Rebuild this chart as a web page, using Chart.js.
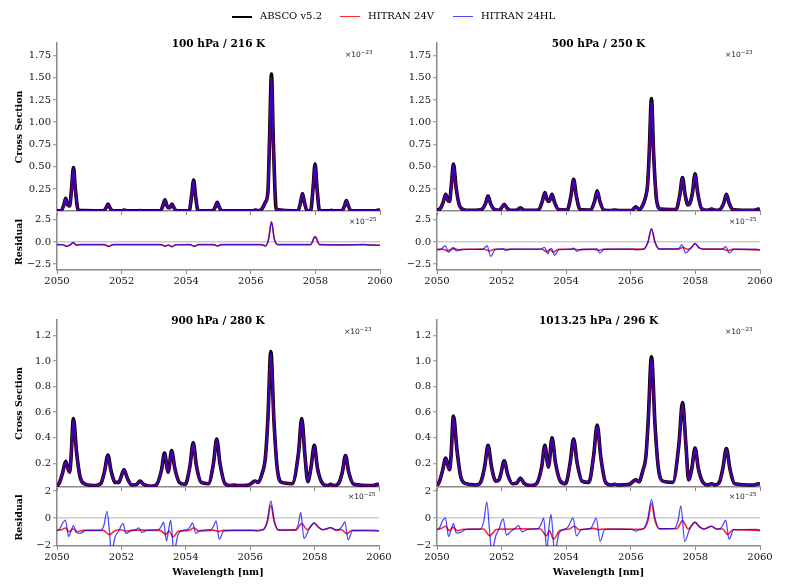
<!DOCTYPE html>
<html><head><meta charset="utf-8">
<script src="https://cdn.jsdelivr.net/npm/chart.js@4.4.1/dist/chart.umd.min.js"></script>
<style>
html,body{margin:0;padding:0;background:#fff;}
#fig{position:relative;width:800px;height:588px;overflow:hidden;font-family:"DejaVu Serif",serif;color:#111;}
#fig canvas{position:absolute;}
.ttl{position:absolute;font-weight:bold;font-size:10.5px;transform:translate(-50%,-50%);white-space:nowrap;color:#000;}
.off{position:absolute;font-family:"DejaVu Sans",sans-serif;font-size:7.5px;white-space:nowrap;transform:translateY(-50%);color:#222;}
.off sup{font-size:5.5px;vertical-align:3px;line-height:0;}
.lg{position:absolute;top:9px;font-size:10px;white-space:nowrap;line-height:13px;color:#000;}
.lg i{display:inline-block;width:20px;vertical-align:middle;margin-right:8px;}
</style></head>
<body><div id="fig"></div>
<script>
// ---------- labels ----------
const SERIES = ['ABSCO v5.2','HITRAN 24V','HITRAN 24HL'];
const PANEL_TITLES = ['100 hPa / 216 K','500 hPa / 250 K','900 hPa / 280 K','1013.25 hPa / 296 K'];
const X_TICKS = [2050,2052,2054,2056,2058,2060];
const X_TICK_LABELS = ['2050','2052','2054','2056','2058','2060'];
const CS_TICKS_TOP = [0.25,0.5,0.75,1.0,1.25,1.5,1.75];
const CS_TICK_LABELS_TOP = ['0.25','0.50','0.75','1.00','1.25','1.50','1.75'];
const CS_TICKS_BOTTOM = [0.2,0.4,0.6,0.8,1.0,1.2];
const CS_TICK_LABELS_BOTTOM = ['0.2','0.4','0.6','0.8','1.0','1.2'];
const RES_TICKS_TOP = [-2.5,0,2.5];
const RES_TICK_LABELS_TOP = ['\u22122.5','0.0','2.5'];
const RES_TICKS_BOTTOM = [-2,0,2];
const RES_TICK_LABELS_BOTTOM = ['\u22122','0','2'];

// ---------- 100 hPa / 216 K (cross section, x1e-23) ----------
const wl100 = [2050.00,2050.13,2050.21,2050.27,2050.33,2050.39,2050.45,2050.51,2050.57,2050.66,
2051.44,2051.52,2051.58,2051.64,2051.72,2052.00,2052.08,2052.16,2052.50,2052.58,
2052.66,2053.20,2053.28,2053.34,2053.40,2053.45,2053.50,2053.56,2053.62,2053.70,
2054.09,2054.17,2054.23,2054.29,2054.37,2054.82,2054.90,2054.96,2055.02,2055.10,
2056.06,2056.15,2056.24,2056.35,2056.45,2056.53,2056.58,2056.64,2056.70,2056.79,
2057.46,2057.54,2057.60,2057.66,2057.74,2057.85,2057.93,2057.99,2058.05,2058.13,
2058.42,2058.50,2058.58,2058.82,2058.90,2058.96,2059.02,2059.10,2059.87,2059.95,2060.00];
const absco100 = [0.005,0.008,0.07,0.145,0.07,0.06,0.25,0.49,0.24,0.01,
0.005,0.04,0.08,0.04,0.005,0.005,0.015,0.005,0.004,0.008,
0.004,0.005,0.065,0.13,0.065,0.04,0.045,0.08,0.04,0.005,
0.005,0.18,0.35,0.17,0.005,0.005,0.05,0.10,0.05,0.005,
0.005,0.015,0.006,0.03,0.10,0.22,0.80,1.54,0.75,0.02,
0.005,0.10,0.20,0.10,0.008,0.005,0.27,0.53,0.26,0.005,
0.004,0.01,0.004,0.005,0.06,0.12,0.06,0.005,0.005,0.015,0.008];
const v24_100 = [0.005,0.008,0.068,0.14,0.068,0.058,0.245,0.475,0.235,0.01,
0.005,0.039,0.078,0.039,0.005,0.005,0.014,0.005,0.004,0.008,
0.004,0.005,0.063,0.127,0.063,0.039,0.044,0.078,0.039,0.005,
0.005,0.175,0.34,0.165,0.005,0.005,0.049,0.098,0.049,0.005,
0.005,0.014,0.006,0.03,0.098,0.215,0.78,1.50,0.73,0.02,
0.005,0.098,0.195,0.098,0.008,0.005,0.265,0.515,0.255,0.005,
0.004,0.01,0.004,0.005,0.059,0.117,0.059,0.005,0.005,0.014,0.008];
const hl24_100 = [0.005,0.008,0.069,0.143,0.069,0.059,0.248,0.484,0.238,0.01,
0.005,0.04,0.079,0.04,0.005,0.005,0.015,0.005,0.004,0.008,
0.004,0.005,0.064,0.128,0.064,0.04,0.045,0.079,0.04,0.005,
0.005,0.178,0.346,0.168,0.005,0.005,0.05,0.099,0.05,0.005,
0.005,0.015,0.006,0.03,0.099,0.218,0.79,1.52,0.74,0.02,
0.005,0.099,0.198,0.099,0.008,0.005,0.268,0.524,0.258,0.005,
0.004,0.01,0.004,0.005,0.06,0.118,0.06,0.005,0.005,0.015,0.008];

// ---------- 500 hPa / 250 K ----------
const wl500 = [2050.00,2050.10,2050.19,2050.27,2050.34,2050.39,2050.44,2050.51,2050.59,2050.70,
2050.85,2051.20,2051.38,2051.50,2051.58,2051.66,2051.78,2051.93,2052.00,2052.08,
2052.16,2052.26,2052.46,2052.58,2052.70,2053.14,2053.26,2053.34,2053.41,2053.45,
2053.49,2053.56,2053.64,2053.76,2054.03,2054.15,2054.23,2054.31,2054.43,2054.76,
2054.88,2054.96,2055.04,2055.16,2055.38,2055.50,2055.62,2056.03,2056.15,2056.26,
2056.36,2056.45,2056.52,2056.57,2056.64,2056.71,2056.80,2056.92,2057.40,2057.52,
2057.60,2057.68,2057.77,2057.83,2057.91,2057.99,2058.07,2058.19,2058.38,2058.50,
2058.62,2058.76,2058.88,2058.96,2059.04,2059.16,2059.83,2059.95,2060.00];
const absco500 = [0.012,0.03,0.10,0.19,0.12,0.11,0.28,0.53,0.27,0.06,
0.015,0.01,0.02,0.085,0.17,0.085,0.02,0.012,0.04,0.077,
0.04,0.012,0.01,0.04,0.01,0.015,0.11,0.21,0.13,0.11,
0.12,0.19,0.10,0.02,0.015,0.18,0.36,0.18,0.02,0.015,
0.115,0.23,0.115,0.015,0.008,0.015,0.008,0.01,0.05,0.02,
0.06,0.15,0.30,0.65,1.265,0.62,0.12,0.025,0.02,0.19,
0.38,0.19,0.07,0.09,0.21,0.42,0.21,0.03,0.01,0.025,
0.01,0.02,0.095,0.19,0.095,0.02,0.01,0.025,0.015];
const v24_500 = [0.012,0.03,0.098,0.185,0.118,0.108,0.275,0.515,0.265,0.06,
0.015,0.01,0.02,0.083,0.165,0.083,0.02,0.012,0.039,0.075,
0.039,0.012,0.01,0.039,0.01,0.015,0.108,0.205,0.128,0.108,
0.118,0.185,0.098,0.02,0.015,0.176,0.35,0.176,0.02,0.015,
0.113,0.224,0.113,0.015,0.008,0.015,0.008,0.01,0.049,0.02,
0.06,0.148,0.295,0.635,1.235,0.61,0.12,0.025,0.02,0.186,
0.372,0.186,0.07,0.09,0.206,0.412,0.206,0.03,0.01,0.025,
0.01,0.02,0.093,0.186,0.093,0.02,0.01,0.025,0.015];
const hl24_500 = [0.012,0.03,0.099,0.188,0.119,0.109,0.278,0.524,0.268,0.06,
0.015,0.01,0.02,0.084,0.168,0.084,0.02,0.012,0.04,0.076,
0.04,0.012,0.01,0.04,0.01,0.015,0.109,0.208,0.129,0.109,
0.119,0.188,0.099,0.02,0.015,0.178,0.355,0.178,0.02,0.015,
0.114,0.227,0.114,0.015,0.008,0.015,0.008,0.01,0.05,0.02,
0.06,0.149,0.298,0.642,1.25,0.615,0.12,0.025,0.02,0.188,
0.376,0.188,0.07,0.09,0.208,0.416,0.208,0.03,0.01,0.025,
0.01,0.02,0.094,0.188,0.094,0.02,0.01,0.025,0.015];

// ---------- 900 hPa / 280 K ----------
const wl900 = [2050.00,2050.08,2050.17,2050.27,2050.35,2050.39,2050.43,2050.51,2050.61,2050.73,
2050.90,2051.20,2051.32,2051.38,2051.48,2051.58,2051.68,2051.81,2051.92,2051.98,
2052.08,2052.18,2052.32,2052.47,2052.58,2052.69,2052.90,2053.08,2053.24,2053.34,
2053.42,2053.45,2053.48,2053.56,2053.66,2053.80,2053.98,2054.13,2054.23,2054.33,
2054.48,2054.70,2054.86,2054.96,2055.06,2055.22,2055.40,2055.50,2055.60,2055.95,
2056.15,2056.25,2056.37,2056.47,2056.55,2056.64,2056.74,2056.84,2056.98,2057.30,
2057.50,2057.60,2057.70,2057.79,2057.89,2057.99,2058.09,2058.25,2058.40,2058.50,
2058.60,2058.74,2058.86,2058.96,2059.06,2059.22,2059.80,2059.95,2060.00];
const absco900 = [0.02,0.05,0.12,0.215,0.15,0.13,0.22,0.55,0.28,0.08,
0.035,0.025,0.035,0.05,0.14,0.265,0.14,0.05,0.05,0.085,
0.148,0.085,0.03,0.035,0.06,0.035,0.02,0.03,0.14,0.28,
0.16,0.13,0.16,0.30,0.16,0.05,0.035,0.18,0.36,0.18,
0.05,0.04,0.20,0.39,0.20,0.04,0.025,0.03,0.025,0.03,
0.06,0.05,0.12,0.24,0.55,1.075,0.52,0.16,0.05,0.04,
0.28,0.55,0.26,0.056,0.17,0.34,0.16,0.04,0.025,0.035,
0.025,0.04,0.13,0.26,0.13,0.035,0.025,0.035,0.03];
const v24_900 = [0.02,0.05,0.118,0.21,0.147,0.128,0.216,0.538,0.275,0.08,
0.035,0.025,0.035,0.05,0.137,0.258,0.137,0.05,0.05,0.084,
0.145,0.084,0.03,0.035,0.059,0.035,0.02,0.03,0.137,0.273,
0.157,0.128,0.157,0.292,0.157,0.05,0.035,0.177,0.353,0.177,
0.05,0.04,0.196,0.382,0.196,0.04,0.025,0.03,0.025,0.03,
0.059,0.05,0.118,0.236,0.54,1.055,0.51,0.158,0.05,0.04,
0.275,0.54,0.255,0.056,0.167,0.333,0.157,0.04,0.025,0.035,
0.025,0.04,0.128,0.255,0.128,0.035,0.025,0.035,0.03];
const hl24_900 = [0.02,0.05,0.119,0.212,0.148,0.129,0.218,0.543,0.277,0.08,
0.035,0.025,0.035,0.05,0.138,0.261,0.138,0.05,0.05,0.084,
0.146,0.084,0.03,0.035,0.059,0.035,0.02,0.03,0.138,0.276,
0.158,0.129,0.158,0.296,0.158,0.05,0.035,0.178,0.356,0.178,
0.05,0.04,0.198,0.386,0.198,0.04,0.025,0.03,0.025,0.03,
0.059,0.05,0.119,0.238,0.545,1.062,0.515,0.159,0.05,0.04,
0.277,0.545,0.258,0.056,0.168,0.337,0.158,0.04,0.025,0.035,
0.025,0.04,0.129,0.258,0.129,0.035,0.025,0.035,0.03];

// ---------- 1013.25 hPa / 296 K ----------
const wl1013 = [2050.00,2050.08,2050.17,2050.27,2050.35,2050.39,2050.43,2050.51,2050.62,2050.74,
2050.90,2051.20,2051.32,2051.38,2051.48,2051.58,2051.69,2051.82,2051.92,2051.98,
2052.08,2052.19,2052.34,2052.47,2052.58,2052.69,2052.90,2053.08,2053.24,2053.34,
2053.42,2053.45,2053.48,2053.56,2053.67,2053.82,2053.98,2054.12,2054.23,2054.34,
2054.49,2054.70,2054.85,2054.96,2055.07,2055.22,2055.40,2055.50,2055.60,2055.95,
2056.15,2056.25,2056.37,2056.47,2056.54,2056.64,2056.75,2056.85,2056.99,2057.30,
2057.49,2057.60,2057.71,2057.79,2057.89,2057.99,2058.09,2058.25,2058.40,2058.50,
2058.60,2058.74,2058.85,2058.96,2059.07,2059.22,2059.80,2059.95,2060.00];
const absco1013 = [0.025,0.06,0.14,0.24,0.17,0.15,0.24,0.57,0.30,0.09,
0.04,0.03,0.04,0.07,0.18,0.34,0.17,0.06,0.07,0.12,
0.22,0.11,0.04,0.045,0.085,0.045,0.025,0.04,0.17,0.34,
0.20,0.17,0.21,0.40,0.20,0.06,0.04,0.20,0.39,0.20,
0.06,0.05,0.26,0.50,0.25,0.05,0.03,0.035,0.03,0.035,
0.07,0.055,0.14,0.26,0.54,1.035,0.50,0.17,0.06,0.05,
0.35,0.675,0.33,0.07,0.16,0.32,0.16,0.045,0.03,0.04,
0.03,0.05,0.16,0.315,0.155,0.04,0.03,0.04,0.035];
const v24_1013 = [0.025,0.06,0.137,0.235,0.167,0.147,0.235,0.558,0.294,0.09,
0.04,0.03,0.04,0.07,0.176,0.333,0.167,0.06,0.07,0.118,
0.215,0.108,0.04,0.045,0.083,0.045,0.025,0.04,0.167,0.333,
0.196,0.167,0.206,0.392,0.196,0.06,0.04,0.196,0.382,0.196,
0.06,0.05,0.255,0.49,0.245,0.05,0.03,0.035,0.03,0.035,
0.069,0.055,0.137,0.255,0.53,1.015,0.49,0.167,0.06,0.05,
0.343,0.662,0.323,0.07,0.157,0.314,0.157,0.045,0.03,0.04,
0.03,0.05,0.157,0.309,0.152,0.04,0.03,0.04,0.035];
const hl24_1013 = [0.025,0.06,0.138,0.238,0.168,0.148,0.238,0.564,0.297,0.09,
0.04,0.03,0.04,0.07,0.178,0.337,0.168,0.06,0.07,0.119,
0.218,0.109,0.04,0.045,0.084,0.045,0.025,0.04,0.168,0.337,
0.198,0.168,0.208,0.396,0.198,0.06,0.04,0.198,0.386,0.198,
0.06,0.05,0.258,0.495,0.248,0.05,0.03,0.035,0.03,0.035,
0.069,0.055,0.138,0.258,0.535,1.022,0.495,0.168,0.06,0.05,
0.347,0.668,0.327,0.07,0.158,0.317,0.158,0.045,0.03,0.04,
0.03,0.05,0.158,0.312,0.153,0.04,0.03,0.04,0.035];

// ---------- residuals [wavelength, value x1e-25] ----------
const resV100 = [[2050.00,-0.30],[2050.18,-0.31],[2050.30,-0.48],[2050.42,-0.30],[2050.50,-0.08],[2050.60,-0.33],[2050.72,-0.30],[2051.46,-0.30],[2051.60,-0.48],[2051.74,-0.30],[2053.22,-0.30],[2053.35,-0.46],[2053.45,-0.34],[2053.56,-0.52],[2053.68,-0.31],[2054.12,-0.30],[2054.25,-0.47],[2054.38,-0.30],[2054.85,-0.30],[2054.97,-0.43],[2055.09,-0.30],[2056.32,-0.30],[2056.46,-0.42],[2056.55,0.30],[2056.64,2.25],[2056.73,0.30],[2056.84,-0.30],[2057.85,-0.30],[2057.99,0.58],[2058.13,-0.30],[2058.96,-0.33],[2059.50,-0.30],[2059.95,-0.37],[2060.00,-0.35]];
const resHL100 = [[2050.00,-0.30],[2050.18,-0.30],[2050.30,-0.50],[2050.42,-0.30],[2050.50,-0.05],[2050.60,-0.35],[2050.72,-0.30],[2051.46,-0.30],[2051.60,-0.50],[2051.74,-0.30],[2053.22,-0.30],[2053.35,-0.48],[2053.45,-0.35],[2053.56,-0.55],[2053.68,-0.32],[2054.12,-0.30],[2054.25,-0.50],[2054.38,-0.30],[2054.85,-0.30],[2054.97,-0.45],[2055.09,-0.30],[2056.32,-0.30],[2056.46,-0.45],[2056.55,0.32],[2056.64,2.30],[2056.73,0.32],[2056.84,-0.30],[2057.85,-0.30],[2057.99,0.62],[2058.13,-0.30],[2058.96,-0.32],[2059.50,-0.30],[2059.95,-0.38],[2060.00,-0.35]];
const resV500 = [[2050.00,-0.85],[2050.18,-0.82],[2050.32,-1.00],[2050.45,-0.82],[2050.55,-0.75],[2050.66,-0.90],[2050.82,-0.82],[2051.46,-0.82],[2051.62,-1.02],[2051.78,-0.82],[2053.24,-0.82],[2053.40,-1.10],[2053.50,-0.85],[2053.60,-1.15],[2053.76,-0.82],[2054.10,-0.82],[2054.25,-0.80],[2054.38,-0.88],[2054.86,-0.82],[2055.00,-0.95],[2055.14,-0.82],[2056.40,-0.80],[2056.53,-0.05],[2056.64,1.45],[2056.75,-0.05],[2056.88,-0.80],[2057.46,-0.80],[2057.62,-0.62],[2057.76,-0.82],[2057.88,-0.62],[2057.99,-0.18],[2058.11,-0.65],[2058.24,-0.80],[2058.86,-0.80],[2059.00,-0.98],[2059.14,-0.82],[2060.00,-0.90]];
const resHL500 = [[2050.00,-0.85],[2050.12,-0.82],[2050.19,-0.60],[2050.25,-0.40],[2050.36,-1.15],[2050.44,-0.85],[2050.50,-0.62],[2050.60,-1.00],[2050.75,-0.85],[2051.40,-0.82],[2051.48,-0.65],[2051.55,-0.40],[2051.66,-1.62],[2051.80,-0.85],[2051.98,-0.78],[2052.04,-0.75],[2052.12,-0.95],[2052.28,-0.82],[2053.20,-0.80],[2053.33,-0.60],[2053.43,-1.35],[2053.50,-0.80],[2053.55,-0.75],[2053.64,-1.50],[2053.78,-0.85],[2054.12,-0.82],[2054.23,-0.68],[2054.33,-1.05],[2054.48,-0.82],[2054.85,-0.82],[2054.95,-0.75],[2055.04,-1.25],[2055.18,-0.82],[2056.08,-0.82],[2056.18,-0.88],[2056.40,-0.80],[2056.53,0.00],[2056.64,1.52],[2056.75,0.00],[2056.88,-0.78],[2057.45,-0.78],[2057.52,-0.60],[2057.58,-0.30],[2057.70,-1.22],[2057.82,-0.85],[2057.88,-0.62],[2057.99,-0.16],[2058.11,-0.65],[2058.24,-0.80],[2058.50,-0.80],[2058.82,-0.80],[2058.88,-0.68],[2058.94,-0.52],[2059.05,-1.25],[2059.19,-0.82],[2059.90,-0.82],[2060.00,-0.90]];
const resV900 = [[2050.00,-0.90],[2050.14,-0.85],[2050.27,-0.72],[2050.38,-1.00],[2050.50,-0.78],[2050.62,-0.98],[2050.82,-0.90],[2051.44,-0.90],[2051.62,-1.22],[2051.80,-0.92],[2051.98,-0.85],[2052.12,-0.95],[2052.30,-0.90],[2052.60,-0.88],[2053.20,-0.90],[2053.38,-1.20],[2053.48,-0.95],[2053.60,-1.38],[2053.78,-0.95],[2054.10,-0.90],[2054.25,-0.70],[2054.40,-0.95],[2054.86,-0.88],[2055.00,-0.98],[2055.16,-0.90],[2056.10,-0.90],[2056.40,-0.85],[2056.53,-0.30],[2056.64,0.95],[2056.75,-0.30],[2056.88,-0.88],[2057.42,-0.88],[2057.60,-0.40],[2057.77,-0.85],[2057.88,-0.60],[2057.99,-0.35],[2058.11,-0.65],[2058.26,-0.85],[2058.50,-0.70],[2058.66,-0.88],[2058.84,-0.85],[2059.00,-1.15],[2059.16,-0.90],[2060.00,-0.95]];
const resHL900 = [[2050.00,-0.90],[2050.08,-0.80],[2050.18,-0.35],[2050.26,-0.15],[2050.36,-1.35],[2050.45,-0.85],[2050.51,-0.55],[2050.60,-1.05],[2050.72,-1.12],[2050.90,-0.90],[2051.35,-0.90],[2051.46,-0.50],[2051.55,0.50],[2051.63,-1.00],[2051.69,-2.60],[2051.80,-1.40],[2051.92,-0.95],[2051.98,-0.62],[2052.05,-0.38],[2052.14,-1.12],[2052.28,-0.95],[2052.45,-0.85],[2052.54,-0.72],[2052.64,-1.05],[2052.80,-0.90],[2053.15,-0.85],[2053.24,-0.60],[2053.31,-0.30],[2053.40,-1.68],[2053.47,-0.80],[2053.53,-0.15],[2053.63,-2.50],[2053.76,-1.20],[2053.92,-0.90],[2054.05,-0.85],[2054.14,-0.60],[2054.21,-0.35],[2054.31,-1.10],[2054.45,-0.90],[2054.78,-0.85],[2054.87,-0.55],[2054.94,-0.20],[2055.04,-1.55],[2055.18,-0.95],[2055.50,-0.90],[2056.08,-0.90],[2056.20,-0.95],[2056.40,-0.85],[2056.53,-0.20],[2056.64,1.28],[2056.75,-0.20],[2056.88,-0.88],[2057.40,-0.85],[2057.50,-0.40],[2057.57,0.42],[2057.67,-1.50],[2057.80,-0.95],[2057.88,-0.60],[2057.99,-0.35],[2058.11,-0.65],[2058.26,-0.85],[2058.50,-0.70],[2058.66,-0.88],[2058.78,-0.80],[2058.87,-0.55],[2058.94,-0.25],[2059.04,-1.60],[2059.18,-0.92],[2059.90,-0.88],[2060.00,-0.95]];
const resV1013 = [[2050.00,-0.85],[2050.14,-0.75],[2050.27,-0.60],[2050.38,-0.92],[2050.50,-0.68],[2050.62,-0.92],[2050.82,-0.82],[2051.44,-0.80],[2051.63,-1.30],[2051.82,-0.85],[2051.98,-0.80],[2052.12,-0.82],[2052.30,-0.80],[2052.60,-0.78],[2053.20,-0.80],[2053.39,-1.30],[2053.48,-0.92],[2053.61,-1.55],[2053.80,-0.90],[2054.10,-0.80],[2054.25,-0.60],[2054.40,-0.85],[2054.86,-0.75],[2055.00,-0.85],[2055.16,-0.80],[2056.10,-0.82],[2056.40,-0.78],[2056.53,-0.20],[2056.64,1.08],[2056.75,-0.20],[2056.88,-0.78],[2057.42,-0.78],[2057.60,-0.20],[2057.78,-0.80],[2057.88,-0.55],[2057.99,-0.30],[2058.11,-0.60],[2058.26,-0.80],[2058.50,-0.60],[2058.66,-0.80],[2058.84,-0.80],[2059.00,-1.20],[2059.16,-0.85],[2060.00,-0.90]];
const resHL1013 = [[2050.00,-0.85],[2050.08,-0.70],[2050.18,-0.15],[2050.26,0.02],[2050.36,-1.35],[2050.45,-0.75],[2050.51,-0.40],[2050.60,-1.10],[2050.73,-1.05],[2050.90,-0.82],[2051.34,-0.80],[2051.45,-0.20],[2051.54,1.20],[2051.63,-1.00],[2051.69,-2.50],[2051.82,-1.30],[2051.93,-0.75],[2051.98,-0.35],[2052.05,-0.05],[2052.15,-1.25],[2052.30,-0.95],[2052.44,-0.70],[2052.52,-0.55],[2052.64,-1.00],[2052.82,-0.82],[2053.14,-0.75],[2053.23,-0.40],[2053.30,0.00],[2053.40,-2.30],[2053.47,-0.60],[2053.53,0.28],[2053.64,-2.50],[2053.78,-1.10],[2053.94,-0.82],[2054.04,-0.70],[2054.13,-0.30],[2054.21,0.02],[2054.32,-1.30],[2054.47,-0.85],[2054.76,-0.75],[2054.86,-0.30],[2054.93,0.00],[2055.05,-1.70],[2055.19,-0.85],[2055.50,-0.80],[2056.03,-0.82],[2056.15,-0.95],[2056.27,-0.85],[2056.40,-0.75],[2056.53,0.00],[2056.64,1.38],[2056.75,0.00],[2056.88,-0.78],[2057.36,-0.75],[2057.47,-0.10],[2057.55,0.90],[2057.67,-1.70],[2057.80,-0.95],[2057.88,-0.55],[2057.99,-0.30],[2058.11,-0.60],[2058.26,-0.80],[2058.50,-0.60],[2058.66,-0.80],[2058.78,-0.75],[2058.87,-0.40],[2058.94,-0.15],[2059.04,-1.55],[2059.19,-0.85],[2059.90,-0.82],[2060.00,-0.90]];

// ---------- styling ----------
const C_BLACK = '#000000', C_RED = 'rgba(255,0,0,0.85)', C_BLUE = 'rgba(0,0,255,0.7)';
const SPINE = '#8a8a8a';
const tickFont = {family:'DejaVu Serif', size:10};
const axTitleFont = {family:'DejaVu Serif', size:9.5, weight:'bold'};
const fig = document.getElementById('fig');

function xy(xs, ys){ return xs.map((x,i)=>({x:x, y:ys[i]})); }
function pairs(p){ return p.map(d=>({x:d[0], y:d[1]})); }

function addChart(plot, o){
  const P = 14, yW = 45, xH = o.xH;
  const cv = document.createElement('canvas');
  const w = plot.r - plot.l + yW + 2*P, h = plot.b - plot.t + xH + 2*P;
  cv.width = w; cv.height = h;
  cv.style.left = (plot.l - yW - P) + 'px'; cv.style.top = (plot.t - P) + 'px';
  cv.style.width = w + 'px'; cv.style.height = h + 'px';
  fig.appendChild(cv);
  return new Chart(cv, {
    type:'line',
    data:{datasets:o.datasets},
    options:{
      responsive:false, animation:false, devicePixelRatio:1,
      layout:{padding:P},
      plugins:{legend:{display:false}, tooltip:{enabled:false}, title:{display:false}},
      elements:{point:{radius:0}, line:{cubicInterpolationMode:'monotone'}},
      scales:{
        x:{type:'linear', min:2050, max:2060,
          afterBuildTicks:s=>{ s.ticks = X_TICKS.map(v=>({value:v})); },
          afterFit:s=>{ s.height = xH; },
          ticks:{display:o.xLabels, autoSkip:false, maxRotation:0, padding:1, color:'#111', font:tickFont,
                 callback:v=>{ const i = X_TICKS.indexOf(v); return i<0?'':X_TICK_LABELS[i]; }},
          grid:{drawOnChartArea:false, drawTicks:true, tickLength:4, tickColor:SPINE, tickWidth:1},
          border:{display:true, color:SPINE, width:1.5},
          title:{display:!!o.xTitle, text:o.xTitle||'', font:axTitleFont, color:'#000', padding:{top:0,bottom:4}}
        },
        y:{type:'linear', min:o.yMin, max:o.yMax,
          afterBuildTicks:s=>{ s.ticks = o.yTicks.map(v=>({value:v})); },
          afterFit:s=>{ s.width = yW; },
          ticks:{padding:2, color:'#111', font:tickFont, autoSkip:false,
                 callback:v=>{ const i = o.yTicks.indexOf(v); return i<0?'':o.yLabels[i]; }},
          grid:{drawOnChartArea:!!o.zeroLine, lineWidth:1.5,
                color:c=>(c.tick && c.tick.value===0)?'#cccccc':'rgba(0,0,0,0)',
                drawTicks:true, tickLength:4, tickColor:SPINE, tickWidth:1},
          border:{display:true, color:SPINE, width:1.5},
          title:{display:!!o.yTitle, text:o.yTitle||'', font:axTitleFont, color:'#000', padding:{top:2,bottom:0}}
        }
      }
    }
  });
}

function mainSets(wl, a, v, h){
  return [
    {label:SERIES[2], data:xy(wl,h), borderColor:C_BLUE, borderWidth:2},
    {label:SERIES[1], data:xy(wl,v), borderColor:C_RED, borderWidth:2},
    {label:SERIES[0], data:xy(wl,a), borderColor:C_BLACK, borderWidth:3.6}
  ];
}
function resSets(v, h){
  return [
    {label:SERIES[2], data:pairs(h), borderColor:C_BLUE, borderWidth:1.3},
    {label:SERIES[1], data:pairs(v), borderColor:C_RED, borderWidth:1.6}
  ];
}

const layout = [
  {main:{l:57,r:380,t:43,b:211}, res:{l:57,r:380,t:214,b:270}, left:true, bottom:false,
   sets:mainSets(wl100,absco100,v24_100,hl24_100), rsets:resSets(resV100,resHL100)},
  {main:{l:437,r:760,t:43,b:211}, res:{l:437,r:760,t:214,b:270}, left:false, bottom:false,
   sets:mainSets(wl500,absco500,v24_500,hl24_500), rsets:resSets(resV500,resHL500)},
  {main:{l:57,r:379,t:320,b:487}, res:{l:57,r:379,t:489,b:546}, left:true, bottom:true,
   sets:mainSets(wl900,absco900,v24_900,hl24_900), rsets:resSets(resV900,resHL900)},
  {main:{l:437,r:760,t:320,b:487}, res:{l:437,r:760,t:489,b:546}, left:false, bottom:true,
   sets:mainSets(wl1013,absco1013,v24_1013,hl24_1013), rsets:resSets(resV1013,resHL1013)}
];

layout.forEach((p, k)=>{
  addChart(p.main, {
    datasets:p.sets, xH:6, xLabels:false,
    yMin: p.bottom?0.014:0.003, yMax: p.bottom?1.323:1.89,
    yTicks: p.bottom?CS_TICKS_BOTTOM:CS_TICKS_TOP, yLabels: p.bottom?CS_TICK_LABELS_BOTTOM:CS_TICK_LABELS_TOP,
    yTitle: p.left?'Cross Section':null
  });
  addChart(p.res, {
    datasets:p.rsets, xH: p.bottom?36:20, xLabels:true, xTitle: p.bottom?'Wavelength [nm]':null,
    yMin: p.bottom?-2.05:-3.16, yMax: p.bottom?2.15:3.16, zeroLine:true,
    yTicks: p.bottom?RES_TICKS_BOTTOM:RES_TICKS_TOP, yLabels: p.bottom?RES_TICK_LABELS_BOTTOM:RES_TICK_LABELS_TOP,
    yTitle: p.left?'Residual':null
  });
  const t = document.createElement('div');
  t.className = 'ttl'; t.textContent = PANEL_TITLES[k];
  t.style.left = ((p.main.l + p.main.r)/2) + 'px'; t.style.top = (p.main.t - 0.5) + 'px';
  fig.appendChild(t);
  const o1 = document.createElement('div');
  o1.className = 'off'; o1.innerHTML = '\u00d710<sup>\u221223</sup>';
  o1.style.left = (p.main.r - 35) + 'px'; o1.style.top = (p.main.t + 11) + 'px';
  fig.appendChild(o1);
  const o2 = document.createElement('div');
  o2.className = 'off'; o2.innerHTML = '\u00d710<sup>\u221225</sup>';
  o2.style.left = (p.res.r - 31) + 'px'; o2.style.top = (p.res.t + 7) + 'px';
  fig.appendChild(o2);
});

// figure legend
[[232,C_BLACK,2],[340,C_RED,1.5],[453,C_BLUE,1.5]].forEach((d,i)=>{
  const el = document.createElement('div');
  el.className = 'lg'; el.style.left = d[0] + 'px';
  el.innerHTML = '<i style="border-top:'+d[2]+'px solid '+d[1]+'"></i>' + SERIES[i];
  fig.appendChild(el);
});
</script>
</body></html>
